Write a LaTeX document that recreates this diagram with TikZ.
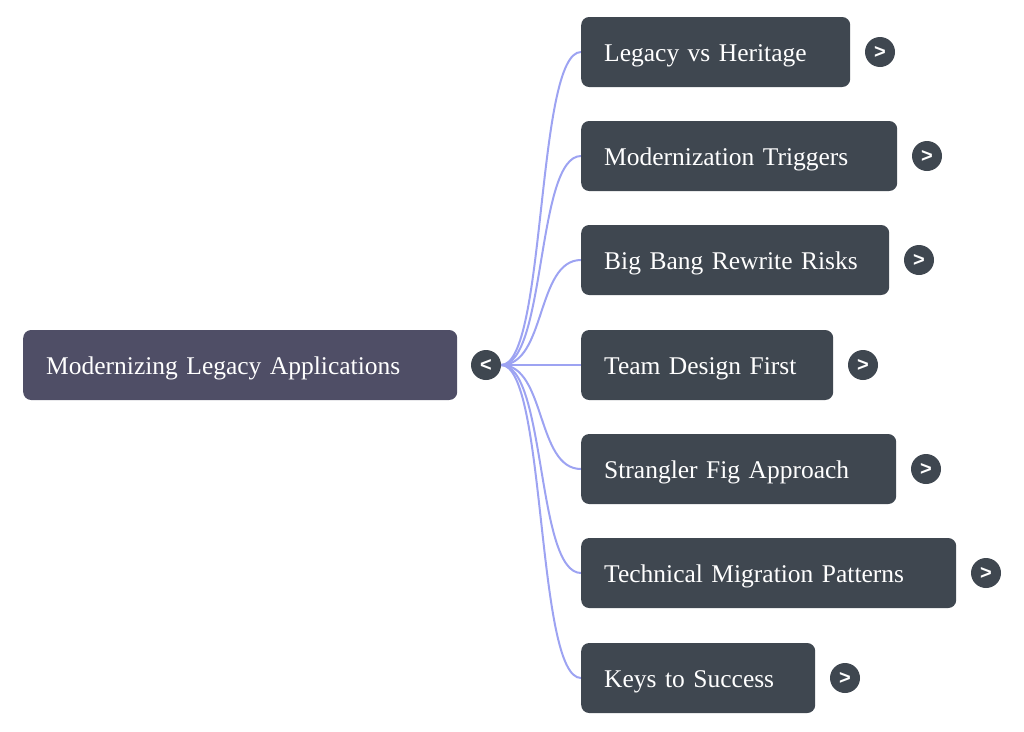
\documentclass[tikz,border=0pt]{standalone}
\usepackage{fontspec}
\setmainfont{Liberation Serif}
\newfontfamily\togglefont{Liberation Sans}
\usetikzlibrary{positioning}
\definecolor{rootfill}{HTML}{4F4E66}
\definecolor{boxfill}{HTML}{3F4750}
\definecolor{linkblue}{HTML}{9DA3F2}
\begin{document}
\begin{tikzpicture}[x=1pt,y=-1pt,
    topic/.style={fill=#1,rounded corners=8pt,minimum height=70pt,inner xsep=23pt,
        text height=23pt,text depth=5pt,
        text=white,font=\fontsize{25.5}{28}\selectfont,anchor=west,align=left},
    toggle/.style={circle,fill=boxfill,minimum size=30pt,inner sep=0pt,text=white,
        font=\togglefont\fontsize{20}{22}\selectfont\bfseries},
    link/.style={draw=linkblue,line width=2pt}]
        %%% CANVAS %%%
        \useasboundingbox (0,0) rectangle (1024,731);

        %%% ROOT %%%
        \node[topic=rootfill,minimum width=434pt,text width=388pt] (root) at (23,365) {Modernizing Legacy Applications};
        \node[toggle] (rtoggle) at (486,365) {<};

        %%% CHILDREN %%%
        \foreach \i/\y/\r/\lbl in {1/52/850/Legacy vs Heritage,
                                   2/156/897/Modernization Triggers,
                                   3/260/889/Big Bang Rewrite Risks,
                                   4/365/833/Team Design First,
                                   5/469/896/Strangler Fig Approach,
                                   6/573/956/Technical Migration Patterns,
                                   7/678/815/Keys to Success}{
            \pgfmathsetmacro{\boxw}{\r-581}
            \pgfmathsetmacro{\textw}{\r-581-46}
            \draw[link] (rtoggle.east) .. controls +(45,0) and +(-45,0) .. (581,\y) coordinate (in\i);
            \node[topic=boxfill,minimum width=\boxw pt,text width=\textw pt] (c\i) at (in\i) {\lbl};
            \node[toggle] (t\i) at (\r+30,\y) {>};
        }
    \end{tikzpicture}
\end{document}
